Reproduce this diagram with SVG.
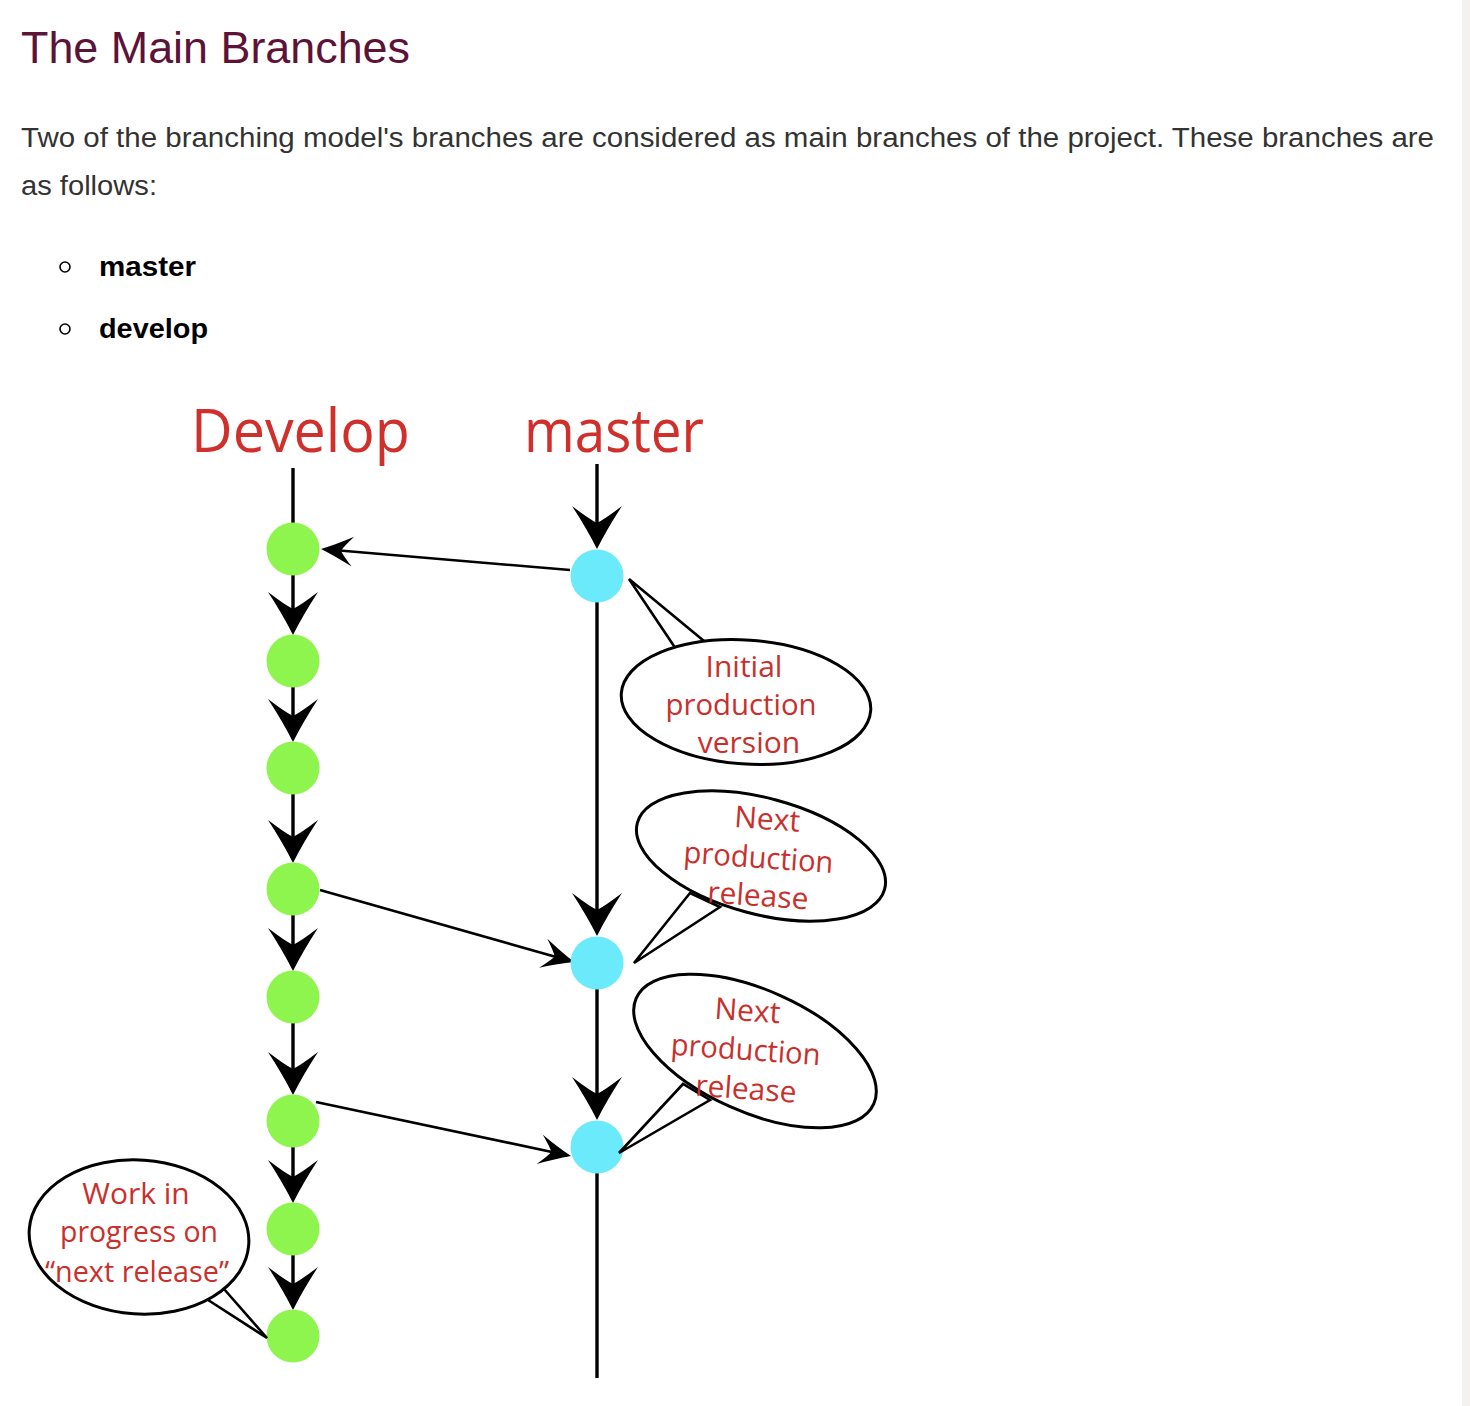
<svg xmlns="http://www.w3.org/2000/svg" width="1470" height="1406" viewBox="0 0 1470 1406">
<style>
.h1{font-family:"Liberation Sans",Arial,sans-serif;font-size:45px;fill:#5c1337}
.p{font-family:"Liberation Sans",Arial,sans-serif;font-size:27px;fill:#333333}
.b{font-family:"Liberation Sans",Arial,sans-serif;font-size:27px;font-weight:bold;fill:#000}
.lbl{font-family:"Open Sans","Noto Sans",sans-serif;font-size:60px;fill:#d0302c}
.bt{font-family:"Open Sans","Noto Sans",sans-serif;font-size:30px;fill:#c9302c;text-anchor:middle}
.g{fill:#8ef54e}
.c{fill:#6aeafa}
.ln{stroke:#000;stroke-width:3.4;fill:none}
.dl{stroke:#000;stroke-width:2.6;fill:none}
.bub{fill:#fff;stroke:#000;stroke-width:3}
.tail{fill:#fff;stroke:#000;stroke-width:2.6;stroke-linejoin:miter}
</style>
<defs>
<marker id="big" markerUnits="userSpaceOnUse" viewBox="-46 -27 48 54" markerWidth="48" markerHeight="54" refX="-4" refY="0" orient="auto" overflow="visible">
<path d="M0,0 Q-20,-10 -43,-25 Q-30,-8 -26,0 Q-30,8 -43,25 Q-20,10 0,0 Z" fill="#000"/>
</marker>
<marker id="small" markerUnits="userSpaceOnUse" viewBox="-34 -17 36 34" markerWidth="36" markerHeight="34" refX="-4" refY="0" orient="auto" overflow="visible">
<path d="M0,0 Q-15,-6 -32,-15 Q-23,-5 -20,0 Q-23,5 -32,15 Q-15,6 0,0 Z" fill="#000"/>
</marker>
</defs>
<rect x="0" y="0" width="1470" height="1406" fill="#fff"/>
<rect x="1462" y="0" width="8" height="1406" fill="#f4f1f0"/>

<g id="header">
<text class="h1" x="21" y="63" textLength="389" lengthAdjust="spacingAndGlyphs">The Main Branches</text>
<text class="p" x="21" y="147" textLength="1413" lengthAdjust="spacingAndGlyphs">Two of the branching model's branches are considered as main branches of the project. These branches are</text>
<text class="p" x="21" y="195" textLength="136" lengthAdjust="spacingAndGlyphs">as follows:</text>
<circle cx="65" cy="267" r="5" fill="none" stroke="#000" stroke-width="1.6"/>
<text class="b" x="99" y="276" textLength="97" lengthAdjust="spacingAndGlyphs">master</text>
<circle cx="65" cy="329" r="5" fill="none" stroke="#000" stroke-width="1.6"/>
<text class="b" x="99" y="338" textLength="109" lengthAdjust="spacingAndGlyphs">develop</text>
</g>

<g id="titles">
<text class="lbl" x="191" y="452" textLength="219" lengthAdjust="spacingAndGlyphs">Develop</text>
<text class="lbl" x="524" y="452" textLength="180" lengthAdjust="spacingAndGlyphs">master</text>
</g>

<g id="connectors">
<line class="ln" x1="293" y1="468" x2="293" y2="524"/>
<line class="ln" x1="293" y1="574" x2="293" y2="631" marker-end="url(#big)"/>
<line class="ln" x1="293" y1="686" x2="293" y2="738" marker-end="url(#big)"/>
<line class="ln" x1="293" y1="793" x2="293" y2="859" marker-end="url(#big)"/>
<line class="ln" x1="293" y1="914" x2="293" y2="967" marker-end="url(#big)"/>
<line class="ln" x1="293" y1="1022" x2="293" y2="1091" marker-end="url(#big)"/>
<line class="ln" x1="293" y1="1146" x2="293" y2="1199" marker-end="url(#big)"/>
<line class="ln" x1="293" y1="1254" x2="293" y2="1306" marker-end="url(#big)"/>

<line class="ln" x1="597" y1="464" x2="597" y2="545" marker-end="url(#big)"/>
<line class="ln" x1="597" y1="600" x2="597" y2="932" marker-end="url(#big)"/>
<line class="ln" x1="597" y1="988" x2="597" y2="1116" marker-end="url(#big)"/>
<line class="ln" x1="597" y1="1172" x2="597" y2="1378"/>

<line class="dl" x1="570" y1="570" x2="325" y2="549.3" marker-end="url(#small)"/>
<line class="dl" x1="320" y1="890" x2="570.2" y2="960.9" marker-end="url(#small)"/>
<line class="dl" x1="316" y1="1102" x2="567.1" y2="1155.2" marker-end="url(#small)"/>
</g>

<g id="develop-commits">
<circle id="d1" class="g" cx="293" cy="549" r="26.5"/>
<circle id="d2" class="g" cx="293" cy="661" r="26.5"/>
<circle id="d3" class="g" cx="293" cy="768" r="26.5"/>
<circle id="d4" class="g" cx="293" cy="889" r="26.5"/>
<circle id="d5" class="g" cx="293" cy="997" r="26.5"/>
<circle id="d6" class="g" cx="293" cy="1121" r="26.5"/>
<circle id="d7" class="g" cx="293" cy="1229" r="26.5"/>
<circle id="d8" class="g" cx="293" cy="1336" r="26.5"/>
</g>

<g id="master-commits">
<circle id="m1" class="c" cx="597" cy="576" r="26.5"/>
<circle id="m2" class="c" cx="597" cy="963" r="26.5"/>
<circle id="m3" class="c" cx="597" cy="1147" r="26.5"/>
</g>

<g id="bubble-initial">
<polygon class="tail" points="680,655 629,579 710,646"/>
<ellipse class="bub" cx="746" cy="702" rx="125" ry="62" transform="rotate(4 746 702)"/>
<text class="bt" x="744" y="677">Initial</text>
<text class="bt" x="741" y="715" textLength="151" lengthAdjust="spacingAndGlyphs">production</text>
<text class="bt" x="749" y="753">version</text>
</g>

<g id="bubble-next1">
<polygon class="tail" points="690,893 634,963 720,907"/>
<ellipse class="bub" cx="761" cy="856" rx="128" ry="58" transform="rotate(15 761 856)"/>
<g transform="rotate(4 760 866)">
<text class="bt" x="764" y="829">Next</text>
<text class="bt" x="758" y="868" textLength="150" lengthAdjust="spacingAndGlyphs">production</text>
<text class="bt" x="760" y="906">release</text>
</g>
</g>

<g id="bubble-next2">
<polygon class="tail" points="683,1084 619,1153 710,1100"/>
<ellipse class="bub" cx="755" cy="1051" rx="130" ry="61" transform="rotate(24 755 1051)"/>
<g transform="rotate(4 745 1060)">
<text class="bt" x="744" y="1021">Next</text>
<text class="bt" x="745" y="1060" textLength="150" lengthAdjust="spacingAndGlyphs">production</text>
<text class="bt" x="748" y="1099">release</text>
</g>
</g>

<g id="bubble-wip">
<polygon class="tail" points="205,1298 267,1338 224,1289"/>
<ellipse class="bub" cx="139" cy="1237" rx="110" ry="77" transform="rotate(4 139 1237)"/>
<text class="bt" x="136" y="1204">Work in</text>
<text class="bt" x="139" y="1242" textLength="158" lengthAdjust="spacingAndGlyphs">progress on</text>
<text class="bt" x="137" y="1282" textLength="184" lengthAdjust="spacingAndGlyphs">“next release”</text>
</g>
</svg>
